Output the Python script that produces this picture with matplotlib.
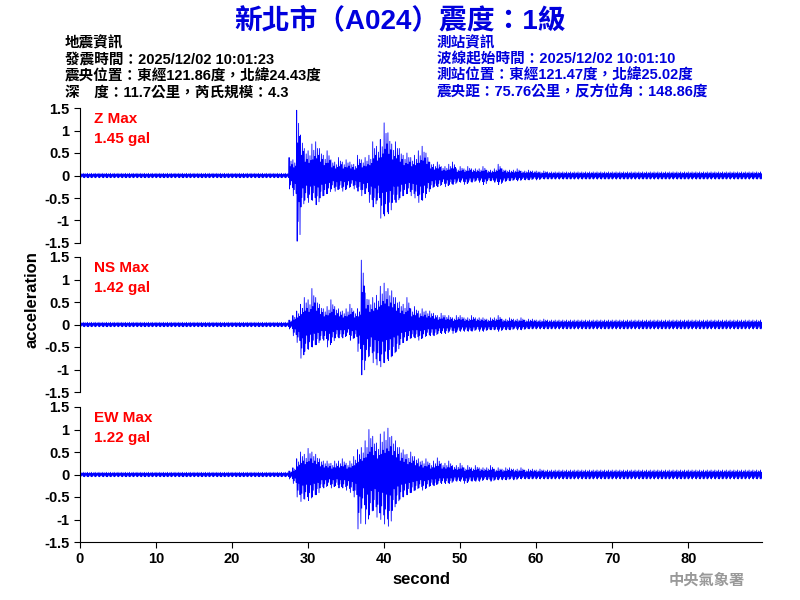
import numpy as np
import matplotlib
matplotlib.use("Agg")
import matplotlib.pyplot as plt

plt.rcParams['font.family'] = ['Liberation Sans', 'Noto Sans CJK TC', 'DejaVu Sans']

# peak envelopes in 0.5 s bins, event window 27.0 .. 62.0 s
win_start = 27.0
z_up = [0.05,0.4,0.35,1.45,0.9,0.6,0.55,0.7,0.75,0.6,0.45,0.55,0.35,0.3,0.4,0.3,0.35,0.3,0.25,0.45,0.35,0.4,0.45,0.75,0.65,0.8,1.17,0.95,0.7,0.75,0.6,0.45,0.5,0.4,0.45,0.55,0.65,0.5,0.3,0.25,0.3,0.2,0.2,0.25,0.3,0.15,0.2,0.15,0.2,0.15,0.15,0.15,0.2,0.12,0.12,0.15,0.25,0.15,0.12,0.12,0.12,0.15,0.1,0.1,0.12,0.1,0.1,0.08,0.1,0.08,0.08]
z_lo = [-0.05,-0.3,-0.45,-1.46,-0.7,-0.55,-0.6,-0.55,-0.65,-0.5,-0.45,-0.4,-0.3,-0.35,-0.3,-0.35,-0.3,-0.25,-0.3,-0.35,-0.45,-0.4,-0.6,-0.7,-0.55,-0.95,-0.9,-0.85,-0.6,-0.6,-0.5,-0.45,-0.4,-0.45,-0.5,-0.6,-0.55,-0.4,-0.3,-0.25,-0.25,-0.2,-0.25,-0.2,-0.2,-0.15,-0.15,-0.2,-0.15,-0.15,-0.12,-0.15,-0.2,-0.12,-0.12,-0.15,-0.2,-0.15,-0.12,-0.12,-0.1,-0.12,-0.1,-0.1,-0.1,-0.08,-0.1,-0.08,-0.08,-0.08,-0.08]
ns_up = [0.05,0.1,0.2,0.3,0.45,0.6,0.55,0.8,0.6,0.45,0.35,0.4,0.55,0.4,0.35,0.3,0.35,0.45,0.3,0.35,1.43,0.7,0.55,0.6,0.65,0.85,0.92,0.8,0.75,0.6,0.5,0.45,0.6,0.35,0.4,0.3,0.35,0.3,0.3,0.25,0.2,0.25,0.2,0.2,0.15,0.2,0.2,0.15,0.15,0.2,0.15,0.15,0.15,0.12,0.15,0.15,0.2,0.12,0.12,0.15,0.12,0.12,0.15,0.1,0.12,0.12,0.1,0.1,0.12,0.1,0.1]
ns_lo = [-0.05,-0.1,-0.25,-0.4,-0.75,-0.6,-0.55,-0.5,-0.45,-0.35,-0.35,-0.5,-0.4,-0.3,-0.3,-0.3,-0.25,-0.35,-0.3,-0.6,-1.12,-0.8,-0.7,-0.85,-0.9,-0.94,-0.85,-0.8,-0.7,-0.6,-0.45,-0.4,-0.35,-0.3,-0.3,-0.35,-0.3,-0.25,-0.25,-0.25,-0.2,-0.2,-0.2,-0.15,-0.2,-0.15,-0.15,-0.15,-0.15,-0.15,-0.12,-0.15,-0.15,-0.12,-0.12,-0.12,-0.15,-0.12,-0.12,-0.12,-0.1,-0.12,-0.12,-0.1,-0.1,-0.1,-0.1,-0.1,-0.1,-0.1,-0.1]
ew_up = [0.05,0.08,0.15,0.35,0.5,0.45,0.58,0.5,0.45,0.35,0.3,0.3,0.25,0.3,0.3,0.35,0.25,0.3,0.4,0.55,0.6,0.75,1.0,0.85,0.7,0.9,0.95,1.03,0.85,0.75,0.6,0.55,0.45,0.5,0.4,0.35,0.3,0.35,0.25,0.3,0.37,0.25,0.25,0.3,0.2,0.2,0.25,0.15,0.2,0.15,0.2,0.15,0.15,0.15,0.2,0.12,0.15,0.12,0.15,0.15,0.12,0.12,0.15,0.1,0.12,0.12,0.1,0.12,0.1,0.1,0.1]
ew_lo = [-0.05,-0.1,-0.2,-0.5,-0.6,-0.55,-0.58,-0.5,-0.45,-0.3,-0.3,-0.25,-0.3,-0.25,-0.3,-0.3,-0.35,-0.4,-0.5,-1.21,-0.75,-1.1,-0.9,-0.8,-0.95,-1.0,-1.1,-1.15,-0.8,-0.65,-0.55,-0.5,-0.45,-0.4,-0.35,-0.3,-0.35,-0.3,-0.25,-0.25,-0.2,-0.2,-0.2,-0.2,-0.15,-0.15,-0.15,-0.2,-0.15,-0.15,-0.15,-0.15,-0.12,-0.12,-0.15,-0.12,-0.12,-0.12,-0.12,-0.1,-0.12,-0.1,-0.1,-0.1,-0.1,-0.1,-0.1,-0.1,-0.1,-0.1,-0.1]
pre_noise = [0.05, 0.05, 0.05]   # Z, NS, EW
post_noise = [0.08, 0.1, 0.1]
t_end = 89.7

channels = ["Z", "NS", "EW"]
max_labels = ["1.45 gal", "1.42 gal", "1.22 gal"]
ups = [z_up, ns_up, ew_up]
los = [z_lo, ns_lo, ew_lo]

shape_u = [1.0, 0.5, 0.8, 0.6]
shape_l = [1.0, 0.7, 0.4, 0.9]

def seg(k, u, l, tt, yy):
    for j in range(4):
        tt += [k + j*0.125, k + j*0.125 + 0.0625]
        yy += [u*shape_u[j], l*shape_l[j]]

def trace(up, lo, pre, post):
    tt, yy = [], []
    dt = 0.5
    for k in np.arange(0, win_start, dt):
        seg(k, pre, -pre, tt, yy)
    for i, (u, l) in enumerate(zip(up, lo)):
        seg(win_start + i*dt, u, l, tt, yy)
    for k in np.arange(win_start + len(up)*dt, t_end, dt):
        seg(k, post, -post, tt, yy)
    return np.array(tt), np.array(yy)

fig = plt.figure(figsize=(8, 6), dpi=100)
tops = [108, 257, 407]
for i in range(3):
    ax = fig.add_axes([80/800, 1-(tops[i]+135)/600, 682/800, 135/600])
    t, y = trace(ups[i], los[i], pre_noise[i], post_noise[i])
    ax.plot(t, y, color='#0000ff', lw=0.6)
    ax.set_xlim(0, t_end)
    ax.set_ylim(-1.5, 1.5)
    ax.set_yticks([-1.5, -1, -0.5, 0, 0.5, 1, 1.5])
    ax.set_yticklabels(['-1.5', '-1', '-0.5', '0', '0.5', '1', '1.5'], fontweight='bold')
    for s in ['top', 'right']:
        ax.spines[s].set_visible(False)
    ax.tick_params(labelsize=10.5, length=4)
    ax.text(0.02, 0.97, f"{channels[i]} Max\n{max_labels[i]}", transform=ax.transAxes,
            color='red', fontsize=11, va='top', ha='left', linespacing=1.5, fontweight='bold')
    if i < 2:
        ax.spines['bottom'].set_visible(False)
        ax.set_xticks([])
    else:
        ax.set_xticks(range(0, 90, 10))
        ax.set_xticklabels([str(v) for v in range(0, 90, 10)], fontweight='bold')
        ax.set_xlabel('second', fontsize=12, fontweight='bold')

fig.text(0.04, 0.5, 'acceleration', rotation=90, va='center', ha='center', fontsize=12, fontweight='bold')
fig.text(0.5, 0.965, '新北市（A024）震度：1級', color='#0000dd', fontsize=20,
         fontweight='bold', ha='center', va='center')
left = ["地震資訊", "發震時間：2025/12/02 10:01:23", "震央位置：東經121.86度，北緯24.43度", "深　度：11.7公里，芮氏規模：4.3"]
right = ["測站資訊", "波線起始時間：2025/12/02 10:01:10", "測站位置：東經121.47度，北緯25.02度", "震央距：75.76公里，反方位角：148.86度"]
for j, (a, b) in enumerate(zip(left, right)):
    y = 1 - (43 + j*16.5)/600
    fig.text(65/800, y, a, fontsize=10.5, color='black', va='center', fontweight='bold')
    fig.text(437/800, y, b, fontsize=10.5, color='#0000dd', va='center', fontweight='bold')
fig.text(745/800, 1-580/600, '中央氣象署', color='#999999', fontsize=11, ha='right', va='center', fontweight='bold')
fig.savefig('out.png', dpi=100)
